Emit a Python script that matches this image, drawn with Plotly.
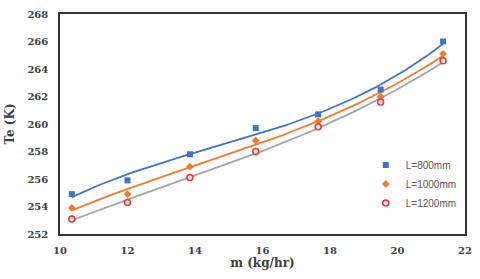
import numpy as np
import plotly.graph_objects as go

m_vals = [10.35, 12.0, 13.85, 15.8, 17.65, 19.5, 21.35]
te_800 = [254.9, 255.9, 257.8, 259.7, 260.7, 262.5, 266.0]
te_1000 = [253.9, 254.9, 256.9, 258.8, 260.2, 262.0, 265.1]
te_1200 = [253.1, 254.3, 256.1, 258.0, 259.8, 261.6, 264.6]
names = ["L=800mm", "L=1000mm", "L=1200mm"]
x_ticks = [10, 12, 14, 16, 18, 20, 22]
y_ticks = [252, 254, 256, 258, 260, 262, 264, 266, 268]

series = [te_800, te_1000, te_1200]
line_colors = ["#4472C4", "#ED7D31", "#A5A5A5"]
markers = [
    dict(symbol="square", size=6, color="#4472C4"),
    dict(symbol="diamond", size=6, color="#ED7D31"),
    dict(symbol="circle", size=6, color="#E0E0E0", line=dict(color="#E8393B", width=1.5)),
]

fig = go.Figure()
xs = np.linspace(min(m_vals), max(m_vals), 100)
for ys, lc in zip(series, line_colors):
    c = np.polyfit(m_vals, ys, 3)
    fig.add_trace(go.Scatter(x=xs, y=np.polyval(c, xs), mode="lines",
                             line=dict(color=lc, width=1.8), showlegend=False, hoverinfo="skip"))
for ys, mk, nm in zip(series, markers, names):
    fig.add_trace(go.Scatter(x=m_vals, y=ys, mode="markers", marker=mk, name=nm))

axis_font = dict(family="DejaVu Serif", size=12, color="#404040")
tick_font = dict(family="DejaVu Serif", size=10, color="#404040")
fig.update_layout(
    width=480, height=279,
    margin=dict(l=60, r=9, t=8, b=45),
    paper_bgcolor="white", plot_bgcolor="white",
    xaxis=dict(range=[10, 22], tickvals=x_ticks, ticktext=[f"<b>{v}</b>" for v in x_ticks],
               showgrid=False, zeroline=False,
               showline=True, linecolor="#333333", linewidth=1.5, mirror=True,
               ticks="outside", ticklen=6, tickcolor="rgba(0,0,0,0)",
               tickfont=tick_font,
               title=dict(text="<b>m (kg/hr)</b>", font=axis_font, standoff=4)),
    yaxis=dict(range=[252, 268], tickvals=y_ticks, ticktext=[f"<b>{v}</b>" for v in y_ticks],
               showgrid=False, zeroline=False,
               showline=True, linecolor="#333333", linewidth=1.5, mirror=True,
               ticks="outside", ticklen=8, tickcolor="rgba(0,0,0,0)",
               tickfont=tick_font,
               title=dict(text="<b>Te (K)</b>", font=axis_font, standoff=10)),
    legend=dict(x=0.755, y=0.38, xanchor="left", yanchor="top",
                font=dict(family="Liberation Sans", size=10, color="#595959"),
                bgcolor="rgba(0,0,0,0)", itemwidth=30, tracegroupgap=12),
)
fig.write_html("out.html", config={"displayModeBar": False},
               post_script="document.body.style.margin='0';document.body.style.overflow='hidden';")
